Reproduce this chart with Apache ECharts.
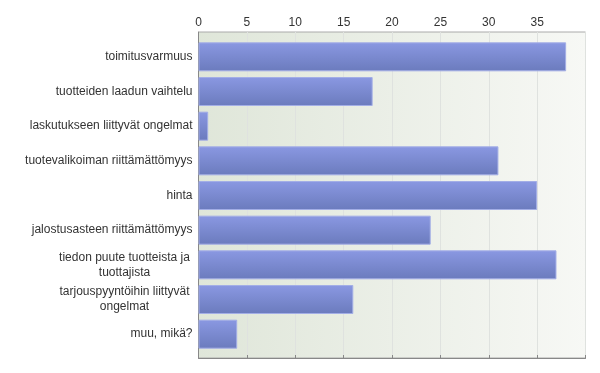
<!DOCTYPE html>
<html><head><meta charset="utf-8">
<script src="https://cdn.jsdelivr.net/npm/echarts@6/dist/echarts.min.js"></script>
<style>html,body{margin:0;padding:0;background:#fff}#c{width:600px;height:373px}</style>
</head><body><div id="c"></div>
<script>
const categories = [
  "toimitusvarmuus",
  "tuotteiden laadun vaihtelu",
  "laskutukseen liittyvät ongelmat",
  "tuotevalikoiman riittämättömyys",
  "hinta",
  "jalostusasteen riittämättömyys",
  "tiedon puute tuotteista ja\ntuottajista",
  "tarjouspyyntöihin liittyvät\nongelmat",
  "muu, mikä?"
];
const values = [38, 18, 1, 31, 35, 24, 37, 16, 4];
const tickLabels = [0, 5, 10, 15, 20, 25, 30, 35];

const FONT = 'Liberation Sans, Arial';
const chart = echarts.init(document.getElementById('c'), null, {renderer: 'canvas'});
chart.setOption({
  animation: false,
  grid: [{
    left: 198.5, right: 14.5, top: 32, bottom: 15,
    show: true,
    borderColor: '#aaaaaa', borderWidth: 1,
    backgroundColor: new echarts.graphic.LinearGradient(0, 0, 1, 0, [
      {offset: 0, color: '#dfe6d9'},
      {offset: 1, color: '#f7f8f5'}
    ])
  }, {
    left: 198.5, right: 14.5, top: 39.5, bottom: 21.5
  }],
  xAxis: [{
    gridIndex: 0, type: 'value', position: 'top', min: 0, max: 40, interval: 5,
    axisLine: {show: true, lineStyle: {color: '#888888'}},
    axisTick: {show: true, length: 3, lineStyle: {color: '#888888'}},
    axisLabel: {
      color: '#333333', fontSize: 12, fontFamily: FONT, margin: 3,
      formatter: v => tickLabels.indexOf(v) >= 0 ? String(v) : ''
    },
    splitLine: {show: true, lineStyle: {color: '#dfe2df'}}
  }, {
    gridIndex: 1, type: 'value', min: 0, max: 40, show: false
  }],
  yAxis: [{
    gridIndex: 0, type: 'value', min: 0, max: 1,
    axisLine: {show: true, lineStyle: {color: '#888888'}},
    axisTick: {show: false}, axisLabel: {show: false}, splitLine: {show: false}
  }, {
    gridIndex: 1, type: 'category', data: categories, inverse: true,
    axisLine: {show: false},
    axisTick: {show: false},
    axisLabel: {
      color: '#333333', fontSize: 12, fontFamily: FONT, margin: 6,
      lineHeight: 15,
      formatter: function (v) {
        if (v.indexOf('\n') < 0) return v;
        return v.split('\n').map(s => '{c|' + s + '}').join('\n');
      },
      rich: {c: {width: 136, align: 'center', fontSize: 12, lineHeight: 15, color: '#333333', fontFamily: FONT}}
    }
  }],
  series: [{
    type: 'bar',
    xAxisIndex: 1, yAxisIndex: 1,
    data: values,
    barWidth: 29,
    itemStyle: {
      color: new echarts.graphic.LinearGradient(0, 0, 0, 1, [
        {offset: 0, color: '#8a98e2'},
        {offset: 1, color: '#6b7bbd'}
      ]),
      borderColor: '#a3aee6', borderWidth: 1
    }
  }]
});
</script></body></html>
